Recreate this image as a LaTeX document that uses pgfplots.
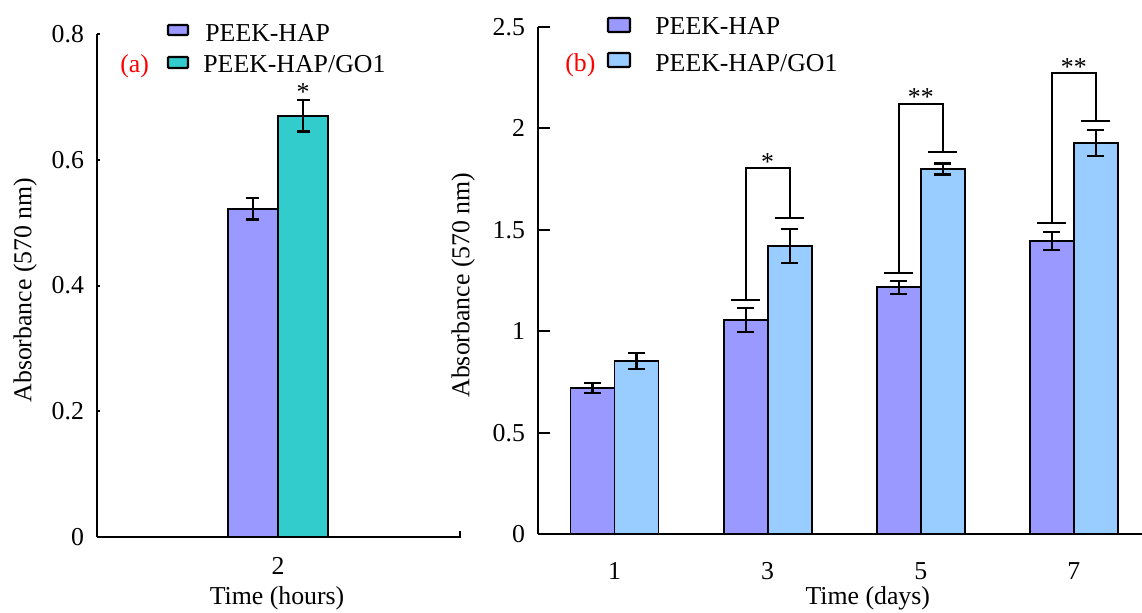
\documentclass[border=0pt]{standalone}
\usepackage{fontspec}
\setmainfont{Liberation Serif}
\usepackage{pgfplots}
\pgfplotsset{compat=1.18}
\definecolor{hapblue}{RGB}{153,153,255}
\definecolor{goteal}{RGB}{51,204,204}
\definecolor{golight}{RGB}{153,204,255}
\newcommand{\fs}{\fontsize{12.9}{15}\selectfont}

\pgfplotsset{
  panel/.style={
    scale only axis, clip=false,
    axis x line=bottom, axis y line=left,
    axis line style={-, line width=1pt},
    tick align=inside,
    xtick style={draw=none},
    ytick style={line width=1pt, black},
    ymin=0, ybar,
    /pgf/number format/assume math mode=true,
    tick label style={font=\fs},
    label style={font=\fs},
    yticklabel style={xshift=-3pt},
    xticklabel style={yshift=-5pt},
    error bars/y dir=both, error bars/y explicit,
    error bars/error bar style={line width=1.1pt, black},
  },
}
\tikzset{sig/.style={line width=0.95pt, black}}

\begin{document}
\begin{tikzpicture}
\path[use as bounding box] (0,0) rectangle (571pt,306pt);

% (a) 2 hours
\begin{axis}[panel,
  at={(48.5pt,37.5pt)}, anchor=south west,
  width=181.5pt, height=251.5pt,
  xmin=0.19, xmax=3.82, ymax=0.8,
  xtick={2}, ytick={0,0.2,0.4,0.6,0.8},
  major tick length=1.5pt,
  bar width=0.5,
  error bars/error mark options={rotate=90, line width=1.1pt, mark size=3.25pt, black},
  xlabel={Time (hours)},
  xlabel style={at={(axis description cs:0.496,-0.121)}, anchor=center},
  ylabel={Absorbance (570 nm)},
  ylabel style={at={(axis description cs:-0.198,0.491)}, anchor=center},
]
\addplot[fill=hapblue, draw=black, line width=0.9pt, bar shift=-0.25]
  coordinates {(2,0.522) +- (0,0.017)};
\addplot[fill=goteal, draw=black, line width=0.9pt, bar shift=0.25]
  coordinates {(2,0.670) +- (0,0.025)};
\node[anchor=base, font=\fs, inner sep=0pt] at (axis cs:2.25,0.695) {*};
\end{axis}

% (b) days
\begin{axis}[panel,
  at={(269pt,39pt)}, anchor=south west,
  width=302pt, height=253.5pt,
  xmin=0, xmax=7.89, ymax=2.5,
  xtick={1,3,5,7}, ytick={0,0.5,1,1.5,2,2.5},
  major tick length=5.8pt,
  bar width=0.575,
  error bars/error mark options={rotate=90, line width=1.1pt, mark size=4.25pt, black},
  xlabel={Time (days)},
  xlabel style={at={(axis description cs:0.546,-0.126)}, anchor=center},
  ylabel={Absorbance (570 nm)},
  ylabel style={at={(axis description cs:-0.124,0.491)}, anchor=center},
]
\addplot[fill=hapblue, draw=black, line width=0.9pt, bar shift=-0.2875]
  coordinates {(1,0.720) +- (0,0.025) (3,1.055) +- (0,0.059)
               (5,1.216) +- (0,0.033) (7,1.445) +- (0,0.043)};
\addplot[fill=golight, draw=black, line width=0.9pt, bar shift=0.2875]
  coordinates {(1,0.853) +- (0,0.040) (3,1.420) +- (0,0.085)
               (5,1.800) +- (0,0.027) (7,1.928) +- (0,0.064)};
% significance brackets
\draw[sig] (axis cs:2.5235,1.154) -- (axis cs:2.9015,1.154);
\draw[sig] (axis cs:3.0985,1.558) -- (axis cs:3.4765,1.558);
\draw[sig] (axis cs:2.7125,1.154) -- (axis cs:2.7125,1.805)
        -- (axis cs:3.2875,1.805) -- (axis cs:3.2875,1.558);
\node[anchor=base, font=\fs, inner sep=0pt] at (axis cs:3,1.793) {*};
\draw[sig] (axis cs:4.5235,1.287) -- (axis cs:4.9015,1.287);
\draw[sig] (axis cs:5.0985,1.884) -- (axis cs:5.4765,1.884);
\draw[sig] (axis cs:4.7125,1.287) -- (axis cs:4.7125,2.120)
        -- (axis cs:5.2875,2.120) -- (axis cs:5.2875,1.884);
\node[anchor=base, font=\fs, inner sep=0pt] at (axis cs:5,2.113) {**};
\draw[sig] (axis cs:6.5235,1.534) -- (axis cs:6.9015,1.534);
\draw[sig] (axis cs:7.0985,2.037) -- (axis cs:7.4765,2.037);
\draw[sig] (axis cs:6.7125,1.534) -- (axis cs:6.7125,2.273)
        -- (axis cs:7.2875,2.273) -- (axis cs:7.2875,2.037);
\node[anchor=base, font=\fs, inner sep=0pt] at (axis cs:7,2.261) {**};
\end{axis}

% legends and panel letters, in pixel units of the reference
\begin{scope}[x=0.5pt, y=-0.5pt, yshift=306pt, font=\fs]
  \draw[line width=1pt] (460,537.5) -- (460,531);
  \draw[fill=hapblue, line width=1.1pt, rounded corners=0.5pt] (168,25) rectangle (188,35);
  \draw[fill=goteal, line width=1.1pt, rounded corners=0.5pt] (168,57) rectangle (188,68);
  \node[anchor=base west, inner sep=0pt] at (205,42) {PEEK-HAP};
  \node[anchor=base west, inner sep=0pt] at (203,73) {PEEK-HAP/GO1};
  \node[anchor=base west, inner sep=0pt, red] at (120,73) {(a)};
  \draw[fill=hapblue, line width=1.1pt, rounded corners=0.5pt] (608,18) rectangle (630,32);
  \draw[fill=golight, line width=1.1pt, rounded corners=0.5pt] (608,53) rectangle (630,67);
  \node[anchor=base west, inner sep=0pt] at (655,35) {PEEK-HAP};
  \node[anchor=base west, inner sep=0pt] at (655,72) {PEEK-HAP/GO1};
  \node[anchor=base west, inner sep=0pt, red] at (565,72) {(b)};
\end{scope}
\end{tikzpicture}
\end{document}
